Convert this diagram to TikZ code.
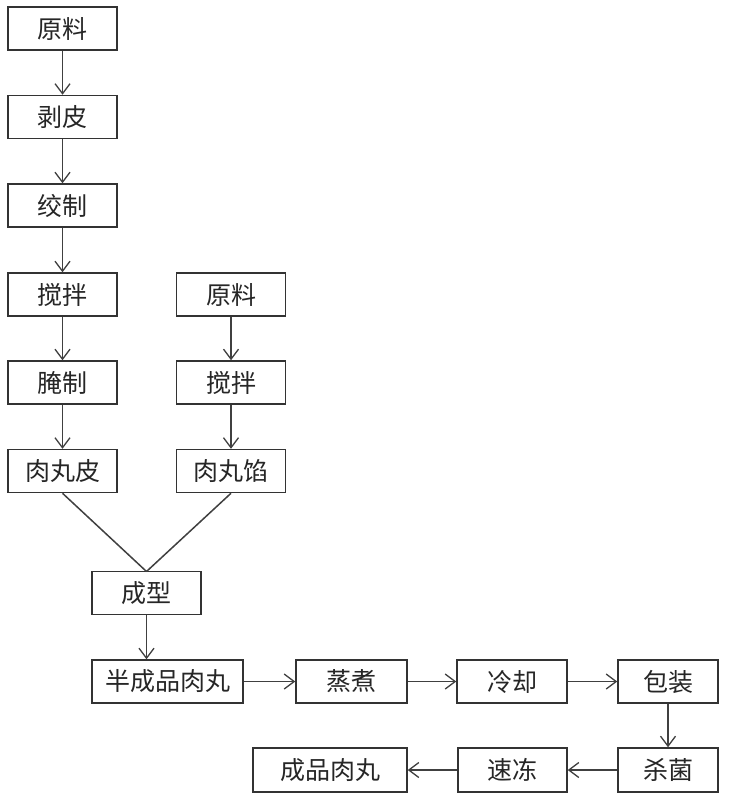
\documentclass[tikz,border=0pt]{standalone}
\usepackage{fontspec}
\newfontfamily\cjk{Noto Sans CJK SC}
\usetikzlibrary{arrows.meta}
\begin{document}
\begin{tikzpicture}[x=1pt,y=-1pt,
  box/.style={draw=black!80, line width=1.5pt, fill=white, inner sep=0pt, font=\cjk\fontsize{25}{25}\selectfont, text=black!85},
  conn/.style={draw=black!75, line width=1.5pt},
  arr/.style={conn, -{Straight Barb[length=10pt,width=15pt,line width=1.3pt]}}]
\fill[white] (0,0) rectangle (736,800);
\useasboundingbox (0,0) rectangle (736,800);
% left column
\node[box, minimum width=109pt, minimum height=43pt] (a1) at (62.5,28.5) {原料};
\node[box, minimum width=109pt, minimum height=43pt] (a2) at (62.5,117) {剥皮};
\node[box, minimum width=109pt, minimum height=43pt] (a3) at (62.5,205.5) {绞制};
\node[box, minimum width=109pt, minimum height=43pt] (a4) at (62.5,294.5) {搅拌};
\node[box, minimum width=109pt, minimum height=43pt] (a5) at (62.5,382.5) {腌制};
\node[box, minimum width=109pt, minimum height=43pt] (a6) at (62.5,471) {肉丸皮};
% right column
\node[box, minimum width=109pt, minimum height=43pt] (b1) at (231,294.5) {原料};
\node[box, minimum width=109pt, minimum height=43pt] (b2) at (231,382.5) {搅拌};
\node[box, minimum width=109pt, minimum height=43pt] (b3) at (231,471) {肉丸馅};
% forming
\node[box, minimum width=109pt, minimum height=43pt] (c1) at (146.5,593) {成型};
\coordinate (m) at (146.5,571.5);
% row 1
\node[box, minimum width=151pt, minimum height=43pt] (d1) at (167.5,681.5) {半成品肉丸};
\node[box, minimum width=111pt, minimum height=43pt] (d2) at (351.5,681.5) {蒸煮};
\node[box, minimum width=110pt, minimum height=43pt] (d3) at (512,681.5) {冷却};
\node[box, minimum width=100pt, minimum height=43pt] (d4) at (668,681.5) {包装};
% row 2
\node[box, minimum width=100pt, minimum height=44pt] (e1) at (668,770) {杀菌};
\node[box, minimum width=109pt, minimum height=44pt] (e2) at (512.5,770) {速冻};
\node[box, minimum width=154pt, minimum height=44pt] (e3) at (330,770) {成品肉丸};
% connectors
\draw[arr] (a1) -- (a2);
\draw[arr] (a2) -- (a3);
\draw[arr] (a3) -- (a4);
\draw[arr] (a4) -- (a5);
\draw[arr] (a5) -- (a6);
\draw[arr] (b1) -- (b2);
\draw[arr] (b2) -- (b3);
\draw[conn] (a6.south) -- (m);
\draw[conn] (b3.south) -- (m);
\draw[arr] (c1) -- (c1 |- d1.north);
\draw[arr] (d1) -- (d2);
\draw[arr] (d2) -- (d3);
\draw[arr] (d3) -- (d4);
\draw[arr] (d4) -- (e1);
\draw[arr] (e1) -- (e2);
\draw[arr] (e2) -- (e3);
\end{tikzpicture}
\end{document}
